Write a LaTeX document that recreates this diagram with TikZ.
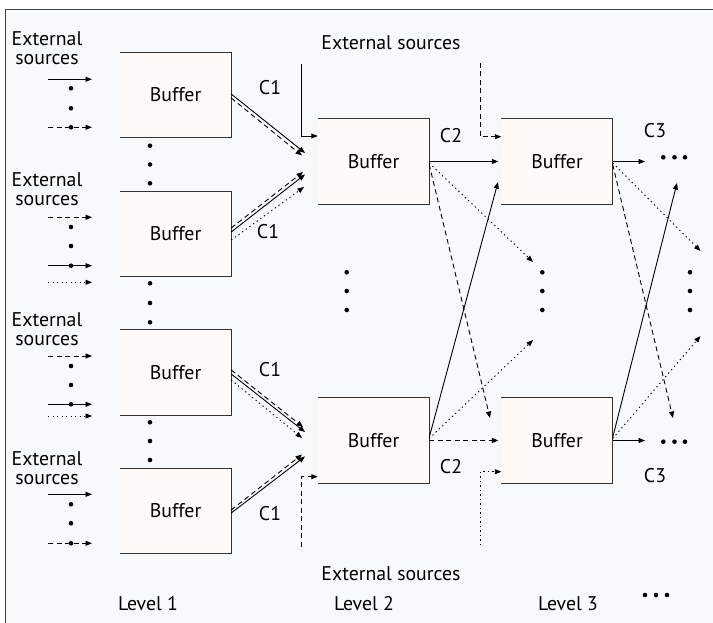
\documentclass[tikz,border=0pt]{standalone}
\usepackage{fontspec}
\setmainfont{PT Sans}
\usetikzlibrary{arrows.meta}
\definecolor{framebg}{RGB}{248,249,251}
\definecolor{buffill}{RGB}{253,250,247}
\begin{document}
\begin{tikzpicture}[x=1pt,y=-1pt,
  font=\fontsize{19.8}{19.5}\selectfont,
  buf/.style={minimum width=111pt,minimum height=85pt,fill=buffill,draw=none,inner sep=0},
  bufline/.style={line width=1.3pt,draw=black!80},
  lbl/.style={inner sep=0},
  arr/.style={-{Triangle[length=6.5pt,width=5pt]},line width=0.9pt},
  dsh/.style={dash pattern=on 5pt off 3.5pt},
  dtt/.style={dash pattern=on 1.3pt off 3.2pt},
  dotm/.style={fill=black}
]
\useasboundingbox (0,0) rectangle (713,623);
\draw[fill=framebg,line width=1pt,draw=black!75] (5,10) rectangle (740,650);

% buffers
\node[buf] (b11) at (175.5,95) {Buffer};
\node[buf] (b12) at (175.5,234) {Buffer};
\node[buf] (b13) at (175.5,372.5) {Buffer};
\node[buf] (b14) at (175.5,511) {Buffer};
\node[buf] (b21) at (373.5,161.5) {Buffer};
\node[buf] (b22) at (373.5,440.5) {Buffer};
\node[buf] (b31) at (557,161.5) {Buffer};
\node[buf] (b32) at (557,440.5) {Buffer};
\foreach \b in {b11,b12,b13,b14,b21,b22,b31,b32}
  \draw[bufline] (\b.north west) -- (\b.north east) -- (\b.south east) -- (\b.south west);

% level 1 external sources labels
\node[lbl,align=center] (es1) at (47,48.4) {External\\sources};
\node[lbl,align=center] (es2) at (47,189) {External\\sources};
\node[lbl,align=center] (es3) at (47,329) {External\\sources};
\node[lbl,align=center] (es4) at (47,468) {External\\sources};

% level 1 input arrows
\coordinate (i1a) at (48,79.3);  \draw[arr] (i1a) -- ++(44,0);
\coordinate (i1b) at (48,127.3); \draw[arr,dsh] (i1b) -- ++(44,0);
\coordinate (i2a) at (48,217.3); \draw[arr,dsh] (i2a) -- ++(44,0);
\coordinate (i2b) at (48,265.7); \draw[arr] (i2b) -- ++(44,0);
\coordinate (i2c) at (48,282.3); \draw[arr,dtt] (i2c) -- ++(44,0);
\coordinate (i3a) at (48,356);   \draw[arr,dsh] (i3a) -- ++(44,0);
\coordinate (i3b) at (48,404.3); \draw[arr] (i3b) -- ++(44,0);
\coordinate (i3c) at (48,416);   \draw[arr,dtt] (i3c) -- ++(44,0);
\coordinate (i4a) at (48,494.3); \draw[arr] (i4a) -- ++(44,0);
\coordinate (i4b) at (48,543.3); \draw[arr,dsh] (i4b) -- ++(44,0);

% dots beside inputs
\foreach \y in {88.3,108.3,127.3,227,246,265.7,366,385,404.3,504.3,523.3,543.3}
  \fill[dotm] (71,\y) circle[radius=2.3pt];
% dots between level 1 buffers
\foreach \y in {145.7,164.5,183.3,283.3,303,322.3,422.3,441,460}
  \fill[dotm] (150,\y) circle[radius=2.3pt];
% vertical dots levels 2, 3, beyond
\foreach \x in {346.7,542.3,690}
  \foreach \y in {272.3,291,310}
    \fill[dotm] (\x,\y) circle[radius=2.3pt];
% horizontal dots
\foreach \x in {663.3,674.5,685} {
  \fill[dotm] (\x,157.3) circle[radius=2.3pt];
  \fill[dotm] (\x,441.7) circle[radius=2.3pt];
}
\foreach \x in {645,656,667}
  \fill[dotm] (\x,595) circle[radius=2.3pt];

% level 1 -> level 2
\coordinate (t11a) at (305,153);   \draw[arr] ([yshift=1pt]b11.east) -- (t11a);
\coordinate (t11b) at (302,155.5); \draw[arr,dsh] ([yshift=-3pt]b11.east) -- (t11b);
\coordinate (t12a) at (303,172);   \draw[arr,dsh] ([yshift=6pt]b12.east) -- (t12a);
\coordinate (t12b) at (305,174.5); \draw[arr] ([yshift=2pt]b12.east) -- (t12b);
\coordinate (t12c) at (304,187);   \draw[arr,dtt] ([yshift=-6pt]b12.east) -- (t12c);
\coordinate (t13a) at (303,427);   \draw[arr,dsh] ([yshift=2.5pt]b13.east) -- (t13a);
\coordinate (t13b) at (305,432);   \draw[arr] ([yshift=-1.5pt]b13.east) -- (t13b);
\coordinate (t13c) at (302,438);   \draw[arr,dtt] ([yshift=-7.5pt]b13.east) -- (t13c);
\coordinate (t14a) at (302,454.5); \draw[arr,dsh] ([yshift=1pt]b14.east) -- (t14a);
\coordinate (t14b) at (305,456.5); \draw[arr] ([yshift=-2pt]b14.east) -- (t14b);

% external sources into level 2 and 3
\coordinate (x21) at (301,64);    \draw[arr] (x21) |- ([yshift=25.5pt]b21.west);
\coordinate (x31) at (480,63);    \draw[arr,dsh] (x31) |- ([yshift=24.8pt]b31.west);
\coordinate (x22) at (301,546.7); \draw[arr,dsh] (x22) |- ([yshift=-36.2pt]b22.west);
\coordinate (x32) at (480,545);   \draw[arr,dtt] (x32) |- ([yshift=-31.2pt]b32.west);

% level 2 -> level 3
\draw[arr,shorten >=3pt] (b21.east) -- (b31.west);
\coordinate (t21a) at (490,418); \draw[arr,dsh] ([yshift=-3pt]b21.east) -- (t21a);
\coordinate (t21b) at (533,262); \draw[arr,dtt] ([yshift=-1.5pt]b21.east) -- (t21b);
\coordinate (t22a) at (498,182); \draw[arr] ([yshift=3pt]b22.east) -- (t22a);
\coordinate (t22b) at (533,340); \draw[arr,dtt] ([yshift=2pt]b22.east) -- (t22b);
\draw[arr,dsh,shorten >=3pt] (b22.east) -- (b32.west);

% level 3 -> beyond
\coordinate (t31h) at (645,161.5); \draw[arr] (b31.east) -- (t31h);
\coordinate (t31a) at (673,418);   \draw[arr,dsh] ([yshift=-3pt]b31.east) -- (t31a);
\coordinate (t31b) at (700.5,251); \draw[arr,dtt] ([yshift=-1.5pt]b31.east) -- (t31b);
\coordinate (t32a) at (677,183);   \draw[arr] ([yshift=3pt]b32.east) -- (t32a);
\coordinate (t32b) at (700.5,336); \draw[arr,dtt] ([yshift=2pt]b32.east) -- (t32b);
\coordinate (t32h) at (645,440.5); \draw[arr] (b32.east) -- (t32h);

% labels
\node[lbl] (c1a) at (270,88) {C1};
\node[lbl] (c1b) at (268,232) {C1};
\node[lbl] (c1c) at (270,370) {C1};
\node[lbl] (c1d) at (270,514) {C1};
\node[lbl] (c2a) at (451,136) {C2};
\node[lbl] (c2b) at (451,467) {C2};
\node[lbl] (c3a) at (655,131) {C3};
\node[lbl] (c3b) at (655,476) {C3};
\node[lbl] (est) at (391,43) {External sources};
\node[lbl] (esb) at (391,574) {External sources};
\node[lbl] (lv1) at (148,603.5) {Level 1};
\node[lbl] (lv2) at (364,603.5) {Level 2};
\node[lbl] (lv3) at (568,603.5) {Level 3};
\end{tikzpicture}
\end{document}
